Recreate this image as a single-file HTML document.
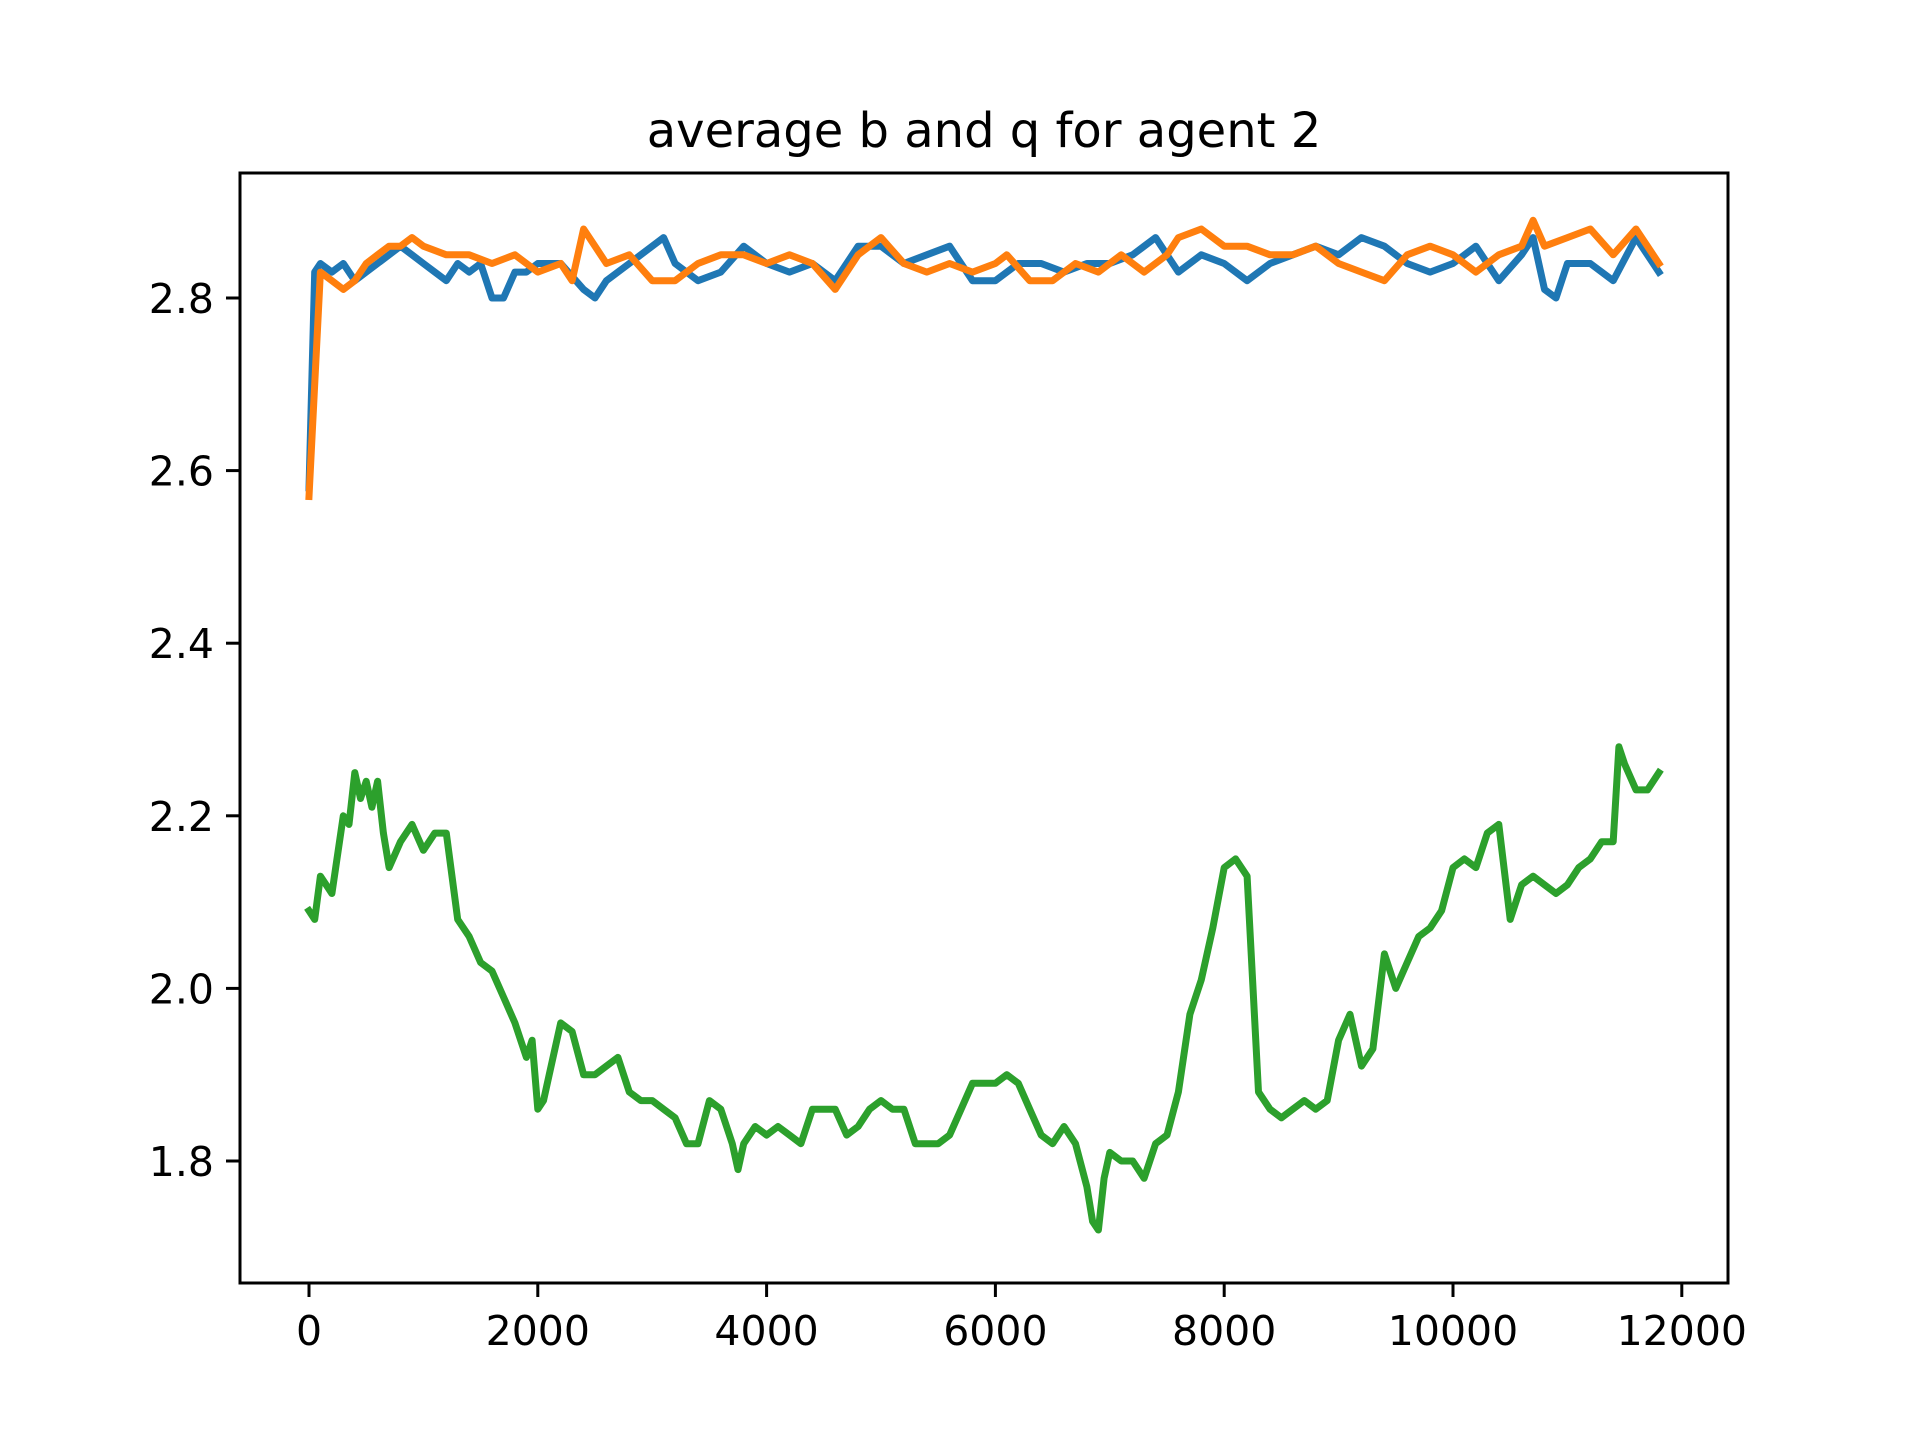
<!DOCTYPE html>
<html><head><meta charset="utf-8"><style>
body{margin:0;background:#fff;}
svg text{font-family:"DejaVu Sans","Liberation Sans",sans-serif;fill:#000;}
</style></head><body>
<svg id="chart" width="1920" height="1440" viewBox="0 0 1920 1440" xmlns="http://www.w3.org/2000/svg">
<rect width="1920" height="1440" fill="#fff"/>
<text x="984" y="147" font-size="48" text-anchor="middle">average b and q for agent 2</text>
<g id="plot"></g>
<rect x="240" y="173" width="1488" height="1110" fill="none" stroke="#000" stroke-width="3"/>
</svg>
<script>
const xTicks=[0,2000,4000,6000,8000,10000,12000];
const yTicks=[1.8,2.0,2.2,2.4,2.6,2.8];
const yTickLabels=["1.8","2.0","2.2","2.4","2.6","2.8"];
const blueX=[0,0.05,0.1,0.2,0.3,0.4,0.5,0.6,0.7,0.8,0.9,1.0,1.1,1.2,1.3,1.4,1.5,1.6,1.7,1.8,1.9,2.0,2.2,2.4,2.5,2.6,2.8,3.0,3.1,3.2,3.4,3.6,3.8,4.0,4.2,4.4,4.6,4.8,5.0,5.2,5.4,5.6,5.8,6.0,6.2,6.4,6.6,6.8,7.0,7.2,7.4,7.6,7.8,8.0,8.2,8.4,8.6,8.8,9.0,9.2,9.4,9.6,9.8,10.0,10.2,10.4,10.6,10.7,10.8,10.9,11.0,11.2,11.4,11.6,11.8];
const blueY=[2.58,2.83,2.84,2.83,2.84,2.82,2.83,2.84,2.85,2.86,2.85,2.84,2.83,2.82,2.84,2.83,2.84,2.80,2.80,2.83,2.83,2.84,2.84,2.81,2.80,2.82,2.84,2.86,2.87,2.84,2.82,2.83,2.86,2.84,2.83,2.84,2.82,2.86,2.86,2.84,2.85,2.86,2.82,2.82,2.84,2.84,2.83,2.84,2.84,2.85,2.87,2.83,2.85,2.84,2.82,2.84,2.85,2.86,2.85,2.87,2.86,2.84,2.83,2.84,2.86,2.82,2.85,2.87,2.81,2.80,2.84,2.84,2.82,2.87,2.83];
const orangeX=[0,0.1,0.2,0.3,0.4,0.5,0.6,0.7,0.8,0.9,1.0,1.2,1.4,1.6,1.8,2.0,2.2,2.3,2.4,2.5,2.6,2.8,3.0,3.2,3.4,3.6,3.8,4.0,4.2,4.4,4.6,4.8,5.0,5.2,5.4,5.6,5.8,6.0,6.1,6.3,6.5,6.7,6.9,7.1,7.3,7.5,7.6,7.8,8.0,8.2,8.4,8.6,8.8,9.0,9.2,9.4,9.6,9.8,10.0,10.2,10.4,10.6,10.7,10.8,11.0,11.2,11.4,11.6,11.8];
const orangeY=[2.57,2.83,2.82,2.81,2.82,2.84,2.85,2.86,2.86,2.87,2.86,2.85,2.85,2.84,2.85,2.83,2.84,2.82,2.88,2.86,2.84,2.85,2.82,2.82,2.84,2.85,2.85,2.84,2.85,2.84,2.81,2.85,2.87,2.84,2.83,2.84,2.83,2.84,2.85,2.82,2.82,2.84,2.83,2.85,2.83,2.85,2.87,2.88,2.86,2.86,2.85,2.85,2.86,2.84,2.83,2.82,2.85,2.86,2.85,2.83,2.85,2.86,2.89,2.86,2.87,2.88,2.85,2.88,2.84];
const greenX=[0,0.05,0.1,0.2,0.3,0.35,0.4,0.45,0.5,0.55,0.6,0.65,0.7,0.8,0.9,1.0,1.1,1.2,1.3,1.4,1.5,1.6,1.7,1.8,1.9,1.95,2.0,2.05,2.1,2.2,2.3,2.4,2.5,2.6,2.7,2.8,2.9,3.0,3.1,3.2,3.3,3.4,3.5,3.6,3.7,3.75,3.8,3.9,4.0,4.1,4.2,4.3,4.4,4.5,4.6,4.7,4.8,4.9,5.0,5.1,5.2,5.3,5.4,5.5,5.6,5.7,5.8,5.9,6.0,6.1,6.2,6.3,6.4,6.5,6.6,6.7,6.8,6.85,6.9,6.95,7.0,7.1,7.2,7.3,7.4,7.5,7.6,7.7,7.8,7.9,8.0,8.1,8.2,8.3,8.4,8.5,8.6,8.7,8.8,8.9,9.0,9.1,9.2,9.3,9.4,9.5,9.6,9.7,9.8,9.9,10.0,10.1,10.2,10.3,10.4,10.5,10.6,10.7,10.8,10.9,11.0,11.1,11.2,11.3,11.4,11.45,11.5,11.6,11.7,11.8];
const greenY=[2.09,2.08,2.13,2.11,2.2,2.19,2.25,2.22,2.24,2.21,2.24,2.18,2.14,2.17,2.19,2.16,2.18,2.18,2.08,2.06,2.03,2.02,1.99,1.96,1.92,1.94,1.86,1.87,1.90,1.96,1.95,1.90,1.90,1.91,1.92,1.88,1.87,1.87,1.86,1.85,1.82,1.82,1.87,1.86,1.82,1.79,1.82,1.84,1.83,1.84,1.83,1.82,1.86,1.86,1.86,1.83,1.84,1.86,1.87,1.86,1.86,1.82,1.82,1.82,1.83,1.86,1.89,1.89,1.89,1.90,1.89,1.86,1.83,1.82,1.84,1.82,1.77,1.73,1.72,1.78,1.81,1.80,1.80,1.78,1.82,1.83,1.88,1.97,2.01,2.07,2.14,2.15,2.13,1.88,1.86,1.85,1.86,1.87,1.86,1.87,1.94,1.97,1.91,1.93,2.04,2.00,2.03,2.06,2.07,2.09,2.14,2.15,2.14,2.18,2.19,2.08,2.12,2.13,2.12,2.11,2.12,2.14,2.15,2.17,2.17,2.28,2.26,2.23,2.23,2.25];
const NS="http://www.w3.org/2000/svg";
const g=document.getElementById('plot');
function sx(v){return 309+v*0.1144;}
function sy(v){return 298+(2.8-v)*863;}
function mk(t,a){const e=document.createElementNS(NS,t);for(const k in a)e.setAttribute(k,a[k]);g.appendChild(e);return e;}
xTicks.forEach(t=>{
  const l=mk('line',{x1:sx(t),x2:sx(t),y1:1283,y2:1297,stroke:'#000','stroke-width':3});
  
  
  const tx=mk('text',{x:sx(t),y:1345,'font-size':41,'text-anchor':'middle'});
  tx.textContent=String(t);
  
  
});
yTicks.forEach((t,i)=>{
  const l=mk('line',{x1:226,x2:240,y1:sy(t),y2:sy(t),stroke:'#000','stroke-width':3});
  
  
  const tx=mk('text',{x:214,y:sy(t)+15,'font-size':41,'text-anchor':'end'});
  tx.textContent=yTickLabels[i];
  
  
});
function line(xs,ys,c,name){
  const d=xs.map((x,i)=>(i?'L':'M')+sx(x*1000).toFixed(1)+' '+sy(ys[i]).toFixed(1)).join(' ');
  const p=mk('path',{d:d,fill:'none',stroke:c,'stroke-width':7,'stroke-linejoin':'round','stroke-linecap':'square'});
  
  
}
line(blueX,blueY,'#1f77b4','series-b-line');
line(orangeX,orangeY,'#ff7f0e','series-q-line');
line(greenX,greenY,'#2ca02c','series-third-line');
</script>
</body></html>
